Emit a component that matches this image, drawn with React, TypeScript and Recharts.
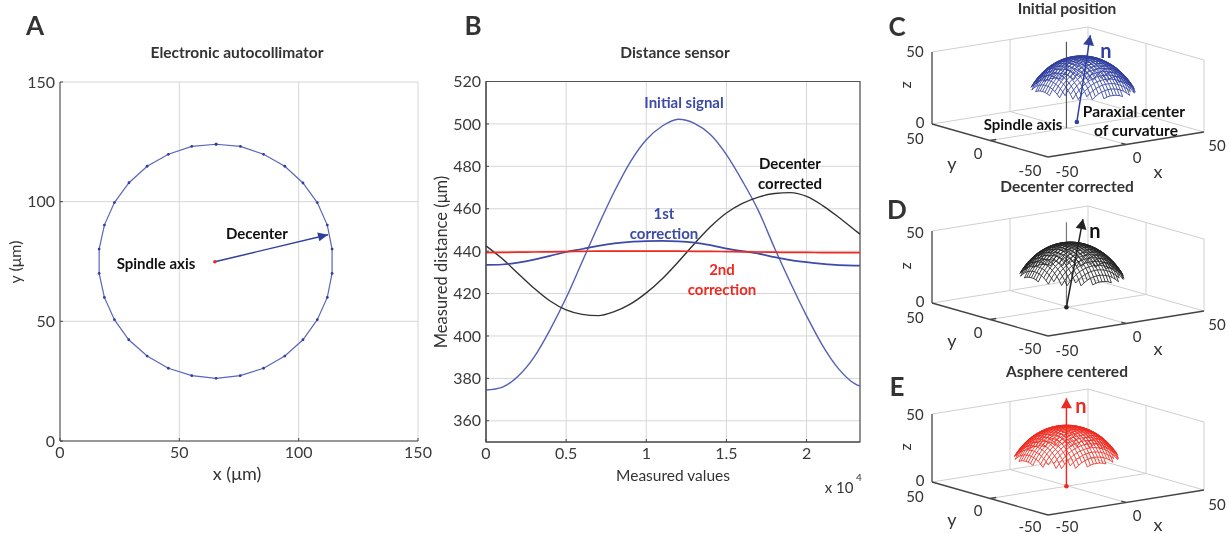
import React from 'react';
import { LineChart, Line, XAxis, YAxis, CartesianGrid, ReferenceArea } from 'recharts';

const FONT = 'Lato, "Open Sans", sans-serif';
const INK = '#333333';
const GRID = '#d6d6d6';

// panel A, measured rim of the circle (x, y in um)
const rimX = [65.4, 75.6, 85.3, 94.2, 101.8, 107.8, 112, 114, 114, 112, 107.8, 101.8, 94.2, 85.3, 75.5, 65.4, 55.2, 45.4, 36.5, 28.8, 22.8, 18.6, 16.4, 16.4, 18.6, 22.8, 28.9, 36.5, 45.4, 55.2, 65.4];
const rimY = [124, 123.1, 119.8, 114.8, 107.8, 99.6, 90.2, 80.2, 70, 60, 50.7, 42.3, 35.5, 30.4, 27.3, 26.2, 27.3, 30.4, 35.5, 42.3, 50.7, 60, 70, 80.2, 90.2, 99.6, 107.9, 114.8, 119.8, 123.1, 124];
const spindlePoint = [{ x: 64.9, y: 74.9 }];
const decenterArrow = [{ x: 64.9, y: 74.9 }, { x: 112.3, y: 86.2 }];
const axisTicksA = [0, 50, 100, 150];

// panel B, sensor traces
const sampleX = [0, 1000, 2000, 3000, 4000, 5000, 6000, 7000, 8000, 9000, 10000, 11000, 12000, 13000, 14000, 15000, 16000, 17000, 18000, 19000, 20000, 21000, 22000, 23000, 23333];
const initialSignal = [374.5, 375.8, 381, 390, 403, 418, 435, 452, 468, 482, 492.5, 499, 502.2, 500.3, 495, 485.5, 473, 459, 441.5, 425, 409.5, 395.5, 384.5, 377.5, 376.3];
const decenterCorrected = [442.5, 436.5, 429.5, 422.5, 416.5, 412.3, 410.2, 409.6, 411.5, 415, 420.3, 427, 435, 443.5, 451.5, 458, 462.5, 465.5, 467.2, 467.6, 465.8, 461.5, 456, 450, 448];
const firstCorrection = [433.5, 433.7, 434.6, 436, 437.8, 439.6, 441, 442.5, 443.7, 444.4, 444.7, 444.8, 444.6, 444, 442.8, 441.2, 440, 438.8, 437.2, 435.8, 434.8, 434, 433.4, 433.2, 433.2];
const secondCorrection = [439.3, 439.4, 439.5, 439.6, 439.7, 439.8, 439.9, 440, 440, 440, 440, 440, 440, 439.9, 439.9, 439.8, 439.7, 439.6, 439.5, 439.4, 439.4, 439.3, 439.3, 439.3, 439.3];
const ticksBX = [0, 5000, 10000, 15000, 20000];
const ticksBY = [360, 380, 400, 420, 440, 460, 480, 500, 520];

// panels C-E, lens surface height on a 2 um grid (one quadrant, it is symmetric)
const gridStep = 2;
const domeHeights = [
  [44, 43.9, 43.6, 43.1, 42.4, 41.5, 40.4, 39, 37.3, 35.3, 33, 30.3, 27.1, 23.1],
  [43.9, 43.8, 43.5, 43, 42.3, 41.4, 40.2, 38.9, 37.2, 35.2, 32.9, 30.2, 26.9, 23],
  [43.6, 43.5, 43.2, 42.7, 42, 41.1, 39.9, 38.5, 36.8, 34.9, 32.5, 29.8, 26.5, 22.5],
  [43.1, 43, 42.7, 42.2, 41.5, 40.6, 39.4, 38, 36.3, 34.3, 31.9, 29.1, 25.7, 21.6],
  [42.4, 42.3, 42, 41.5, 40.8, 39.8, 38.6, 37.2, 35.5, 33.4, 31, 28.1, 24.6],
  [41.5, 41.4, 41.1, 40.6, 39.8, 38.9, 37.6, 36.2, 34.4, 32.3, 29.8, 26.8, 23.1],
  [40.4, 40.2, 39.9, 39.4, 38.6, 37.6, 36.4, 34.9, 33, 30.8, 28.2, 25.1, 21.2],
  [39, 38.9, 38.5, 38, 37.2, 36.2, 34.9, 33.3, 31.4, 29.1, 26.3, 23],
  [37.3, 37.2, 36.8, 36.3, 35.5, 34.4, 33, 31.4, 29.4, 26.9, 24],
  [35.3, 35.2, 34.9, 34.3, 33.4, 32.3, 30.8, 29.1, 26.9, 24.3, 21.1],
  [33, 32.9, 32.5, 31.9, 31, 29.8, 28.2, 26.3, 24, 21.1],
  [30.3, 30.2, 29.8, 29.1, 28.1, 26.8, 25.1, 23],
  [27.1, 26.9, 26.5, 25.7, 24.6, 23.1, 21.2],
  [23.1, 23, 22.5, 21.6],
];

type P3 = [number, number, number];

const wallLines: P3[][] = [
  [[-50, 50, 50], [50, 50, 50], [50, -50, 50]],
  [[-50, 50, 0], [50, 50, 0], [50, -50, 0]],
  [[50, 50, 0], [50, 50, 50]],
  [[50, -50, 0], [50, -50, 50]],
  [[0, 50, 0], [0, 50, 50]],
  [[50, 0, 0], [50, 0, 50]],
  [[-50, 0, 0], [50, 0, 0]],
  [[0, -50, 0], [0, 50, 0]],
];
const axisLines: P3[][] = [
  [[-50, 50, 0], [-50, 50, 50]],
  [[-50, 50, 0], [-50, -50, 0]],
  [[-50, -50, 0], [50, -50, 0]],
  [[-50, 0, 0], [-46, 0, 0]],
  [[0, -50, 0], [0, -46, 0]],
];

const panels = [
  { floorY: 128, zScale: 1.44, color: '#2f3f9e', shift: [17.5, 10.5], tilt: -0.05, normal: [[12.3, 8.9, 0], [21, 9, 58.7]] as P3[], angle: -80, spindleTop: 60, spindleColor: '#555555' },
  { floorY: 307, zScale: 1.44, color: '#222222', shift: [2.5, 0], tilt: -0.05, normal: [[-1, 0, 0], [9.6, 0, 59.4]] as P3[], angle: -79, spindleTop: 59, spindleColor: '#777777' },
  { floorY: 486, zScale: 1.36, color: '#ee2a20', shift: [-1, 0], tilt: 0, normal: [[-1, 0, 0], [-1, 0, 64.7]] as P3[], angle: -90, spindleTop: 0, spindleColor: '#ee2a20' },
];

const traces = sampleX.map((x, i) => ({
  x,
  initial: initialSignal[i],
  decenter: decenterCorrected[i],
  first: firstCorrection[i],
  second: secondCorrection[i],
}));
const rim = rimX.map((x, i) => ({ x, y: rimY[i] }));

function Txt({ x, y, size = 15.5, bold = false, color = INK, rot = 0, children }: any) {
  return (
    <div
      style={{
        position: 'absolute',
        left: x,
        top: y,
        fontFamily: FONT,
        fontSize: size,
        fontWeight: bold ? 700 : 400,
        color,
        lineHeight: 1,
        whiteSpace: 'nowrap',
        transform: `translate(-50%, -50%) rotate(${rot}deg)`,
      }}
    >
      {children}
    </div>
  );
}

function heightAt(i: number, j: number) {
  const row = domeHeights[Math.abs(i)];
  return row ? row[Math.abs(j)] : undefined;
}

// a 3D view has no library scale, this is the axes' own oblique projection
function projector(floorY: number, zScale: number) {
  return ([x, y, z]: P3) => ({
    sx: 1068 + 1.56 * x - 1.16 * y,
    sy: floorY - 0.25 * x - 0.33 * y - zScale * z,
  });
}

function domeLines(shift: number[], tilt: number) {
  const lines: P3[][] = [];
  const range = domeHeights.map((_, i) => i).concat(domeHeights.map((_, i) => -i).slice(1));
  const sorted = [...range].sort((a, b) => a - b);
  sorted.forEach((a) => {
    const along: P3[] = [];
    const across: P3[] = [];
    sorted.forEach((b) => {
      const z1 = heightAt(a, b);
      if (z1 !== undefined) {
        const x = a * gridStep;
        const y = b * gridStep;
        along.push([x + shift[0], y + shift[1], z1 + tilt * x]);
      }
      const z2 = heightAt(b, a);
      if (z2 !== undefined) {
        const x = b * gridStep;
        const y = a * gridStep;
        across.push([x + shift[0], y + shift[1], z2 + tilt * x]);
      }
    });
    lines.push(along, across);
  });
  return lines;
}

function arrowDot(color: string, angle: number, len: number, wide: number, startDot: boolean) {
  return (props: any) => {
    const { cx, cy, index } = props;
    if (index === 0) {
      return startDot ? <circle key={index} cx={cx} cy={cy} r={2.3} fill={color} /> : <g key={index} />;
    }
    return (
      <polygon
        key={index}
        points={`0,0 ${-len},${-wide} ${-len},${wide}`}
        fill={color}
        transform={`translate(${cx} ${cy}) rotate(${angle})`}
      />
    );
  };
}

function Panel3D({ panel }: any) {
  const project = projector(panel.floorY, panel.zScale);
  const toLine = (pts: P3[]) => pts.map(project);
  const series = (pts: P3[], color: string, width: number, key: string) => (
    <Line key={key} data={toLine(pts)} dataKey="sy" stroke={color} strokeWidth={width} dot={false} isAnimationActive={false} />
  );
  return (
    <div style={{ position: 'absolute', left: 900, top: 0 }}>
      <LineChart width={330} height={534} margin={{ top: 0, right: 0, bottom: 0, left: 0 }}>
        <XAxis type="number" dataKey="sx" domain={[900, 1230]} hide allowDataOverflow />
        <YAxis type="number" domain={[0, 534]} reversed hide allowDataOverflow />
        {wallLines.map((l, i) => series(l, '#cfcfcf', 1, `w${i}`))}
        {axisLines.map((l, i) => series(l, '#444444', 1.3, `a${i}`))}
        {panel.spindleTop > 0 && series([[-1, 0, 0], [-1, 0, panel.spindleTop]], panel.spindleColor, 1.2, 'spindle')}
        <Line
          data={toLine(panel.normal)}
          dataKey="sy"
          stroke={panel.color}
          strokeWidth={1.5}
          dot={arrowDot(panel.color, panel.angle, 10, 5.5, true)}
          isAnimationActive={false}
        />
        {domeLines(panel.shift, panel.tilt).map((l, i) => series(l, panel.color, 0.85, `d${i}`))}
      </LineChart>
    </div>
  );
}

function PanelLabels({ y, z, t }: any) {
  return (
    <>
      <Txt x={915} y={z.top} size={15}>50</Txt>
      <Txt x={905} y={z.label} size={16} rot={-90}>z</Txt>
      <Txt x={920} y={z.zero} size={15}>0</Txt>
      <Txt x={915} y={y.far} size={15}>50</Txt>
      <Txt x={978} y={y.mid} size={15}>0</Txt>
      <Txt x={1030} y={y.near} size={15}>-50</Txt>
      <Txt x={1067} y={t.near} size={15}>-50</Txt>
      <Txt x={1137} y={t.mid} size={15}>0</Txt>
      <Txt x={1217} y={t.far} size={15}>50</Txt>
      <Txt x={952} y={y.label} size={18}>y</Txt>
      <Txt x={1158} y={t.label} size={18}>x</Txt>
    </>
  );
}

export default function App() {
  const tick = { fontSize: 16, fill: '#3a3a3a', fontFamily: FONT };
  return (
    <div style={{ position: 'absolute', left: 0, top: 0, width: 1230, height: 534, background: '#fff', overflow: 'hidden', filter: 'blur(0.35px)' }}>
      <div style={{ position: 'absolute', left: 0, top: 0 }}>
        <LineChart width={440} height={490} data={rim} margin={{ top: 82, right: 22, bottom: 0, left: 0 }}>
          <CartesianGrid stroke={GRID} />
          <XAxis type="number" dataKey="x" domain={[0, 150]} ticks={axisTicksA} height={49} tick={tick} tickSize={-3} tickMargin={9} stroke="#444" interval={0} />
          <YAxis type="number" domain={[0, 150]} ticks={axisTicksA} width={60} tick={tick} tickSize={-3} tickMargin={8} stroke="#444" interval={0} />
          <Line dataKey="y" stroke="#5a66b8" strokeWidth={1.2} dot={{ r: 1.4, fill: '#2f3f9e', stroke: 'none' }} isAnimationActive={false} />
          <Line data={decenterArrow} dataKey="y" stroke="#2f3f9e" strokeWidth={1.4} dot={arrowDot('#2f3f9e', -13.3, 10, 4.5, false)} isAnimationActive={false} />
          <Line data={spindlePoint} dataKey="y" stroke="none" dot={{ r: 1.8, fill: '#ee2a20', stroke: 'none' }} isAnimationActive={false} />
        </LineChart>
      </div>

      <div style={{ position: 'absolute', left: 430, top: 0 }}>
        <LineChart width={440} height={490} data={traces} margin={{ top: 81.5, right: 10, bottom: 0, left: 0 }}>
          <CartesianGrid stroke={GRID} />
          <XAxis type="number" dataKey="x" domain={[0, 23333]} ticks={ticksBX} height={48} tick={tick} tickSize={-3} tickMargin={9} stroke="#444" interval={0} tickFormatter={(v: number) => String(v / 10000)} />
          <YAxis type="number" domain={[350, 520]} ticks={ticksBY} width={56} tick={tick} tickSize={-3} tickMargin={8} stroke="#444" interval={0} />
          <ReferenceArea x1={0} x2={23333} y1={350} y2={520} fill="none" stroke="#555" strokeWidth={1.2} />
          <Line type="monotone" dataKey="initial" stroke="#5560b4" strokeWidth={1.4} dot={false} isAnimationActive={false} />
          <Line type="monotone" dataKey="decenter" stroke="#333333" strokeWidth={1.4} dot={false} isAnimationActive={false} />
          <Line type="monotone" dataKey="first" stroke="#3c4aa8" strokeWidth={1.7} dot={false} isAnimationActive={false} />
          <Line type="monotone" dataKey="second" stroke="#ee2a20" strokeWidth={1.7} dot={false} isAnimationActive={false} />
        </LineChart>
      </div>

      {panels.map((p, i) => <Panel3D key={i} panel={p} />)}

      <Txt x={35} y={25} size={26} bold>A</Txt>
      <Txt x={237} y={53} bold>Electronic autocollimator</Txt>
      <Txt x={237} y={473} size={18}>x (μm)</Txt>
      <Txt x={15} y={262} size={16} rot={-90}>y (μm)</Txt>
      <Txt x={257} y={233} size={15} bold color="#111">Decenter</Txt>
      <Txt x={156} y={263} size={15} bold color="#111">Spindle axis</Txt>

      <Txt x={473} y={25} size={26} bold>B</Txt>
      <Txt x={675} y={53} bold>Distance sensor</Txt>
      <Txt x={673} y={476} size={15.5}>Measured values</Txt>
      <Txt x={441} y={262} size={16.5} rot={-90}>Measured distance (μm)</Txt>
      <Txt x={839} y={487} size={15}>x 10</Txt>
      <Txt x={859} y={477} size={10}>4</Txt>
      <Txt x={684} y={102} size={15} bold color="#3c4aa8">Initial signal</Txt>
      <Txt x={790} y={163} size={15} bold color="#111">Decenter</Txt>
      <Txt x={790} y={183} size={15} bold color="#111">corrected</Txt>
      <Txt x={664} y={213} size={15} bold color="#3c4aa8">1st</Txt>
      <Txt x={664} y={233} size={15} bold color="#3c4aa8">correction</Txt>
      <Txt x={722} y={269} size={15} bold color="#ee2a20">2nd</Txt>
      <Txt x={722} y={289} size={15} bold color="#ee2a20">correction</Txt>

      <Txt x={897} y={26} size={26} bold>C</Txt>
      <Txt x={1067} y={9} bold>Initial position</Txt>
      <PanelLabels z={{ top: 51, zero: 122, label: 85 }} y={{ far: 138, mid: 153, near: 170, label: 163 }} t={{ near: 171, mid: 157, far: 145, label: 171 }} />
      <Txt x={1023} y={124} size={15} bold color="#111">Spindle axis</Txt>
      <Txt x={1134} y={112} bold color="#111">Paraxial center</Txt>
      <Txt x={1136} y={131} bold color="#111">of curvature</Txt>
      <Txt x={1106} y={50} size={20} bold color="#2f3f9e">n</Txt>

      <Txt x={897} y={209} size={26} bold>D</Txt>
      <Txt x={1067} y={187} bold>Decenter corrected</Txt>
      <PanelLabels z={{ top: 232, zero: 301, label: 266 }} y={{ far: 317, mid: 332, near: 348, label: 340 }} t={{ near: 350, mid: 336, far: 324, label: 348 }} />
      <Txt x={1095} y={230} size={20} bold color="#111">n</Txt>

      <Txt x={897} y={386} size={26} bold>E</Txt>
      <Txt x={1067} y={372} bold>Asphere centered</Txt>
      <PanelLabels z={{ top: 414, zero: 480, label: 447 }} y={{ far: 496, mid: 510, near: 526, label: 519 }} t={{ near: 526, mid: 515, far: 504, label: 524 }} />
      <Txt x={1081} y={405} size={20} bold color="#ee2a20">n</Txt>
    </div>
  );
}
